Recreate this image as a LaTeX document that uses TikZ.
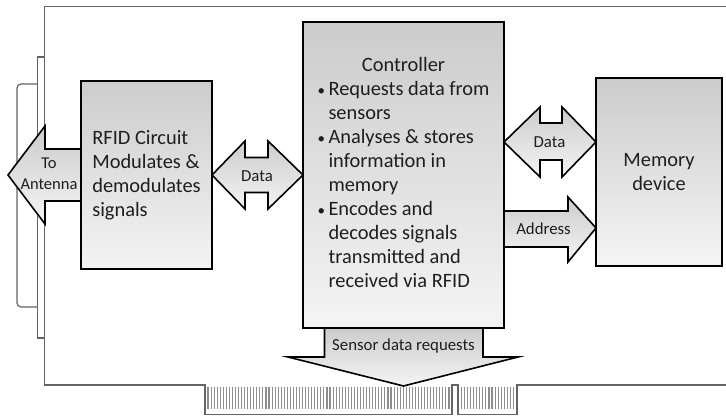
\documentclass[tikz,border=0pt]{standalone}
\usepackage{fontspec}
\setmainfont{Carlito}
\usetikzlibrary{calc}
\definecolor{gtop}{RGB}{204,204,204}
\definecolor{gbot}{RGB}{244,244,244}
\definecolor{board}{RGB}{100,100,100}
\definecolor{finger}{RGB}{140,140,140}
\definecolor{ink}{RGB}{30,30,30}
\newcommand{\blt}{\makebox[11pt][l]{\fontsize{15}{15}\selectfont\textbullet}}
\begin{document}
\begin{tikzpicture}[x=1pt,y=-1pt,
  box/.style={draw=black, line width=1.6pt, top color=gtop, bottom color=gbot, inner sep=0pt, outer sep=0pt, text=ink},
  blockarrow/.style={draw=black, line width=1.6pt, top color=gtop, bottom color=gbot, line join=miter},
  big/.style={font=\fontsize{20.4}{24}\selectfont},
  small/.style={font=\fontsize{16.8}{21}\selectfont, text=ink, inner sep=0pt},
  boardline/.style={draw=board, line width=1.4pt},
  fingerline/.style={draw=finger, line width=1.1pt},
]
\useasboundingbox (0,0) rectangle (726,418);

% board outline
\draw[boardline] (726,6.5) -- (44.5,6.5) -- (44.5,385) -- (205,385) -- (205,414.5) -- (452,414.5) -- (452,385) -- (458,385) -- (458,414.5) -- (517,414.5) -- (517,385) -- (726,385);
% bracket
\draw[boardline, line width=1.2pt] (44.5,57) -- (37.5,57) -- (37.5,338) -- (44.5,338);
\draw[boardline, line width=1.2pt, rounded corners=4pt] (37.5,84) -- (17,84) -- (17,307) -- (37.5,307);
% connector fingers
\foreach \i in {0,...,79} { \draw[fingerline] ({208+3.05*\i},387) -- ({208+3.05*\i},409); }
\foreach \i in {0,...,17} { \draw[fingerline] ({461.5+3.05*\i},387) -- ({461.5+3.05*\i},409); }

% boxes
\path (146.5,175) node[box, minimum width=131pt, minimum height=188pt, big, align=left] (rfid) {RFID Circuit\\Modulates \&\\demodulates\\signals};
\path (403.5,175) node[box, minimum width=201pt, minimum height=306pt, big] (ctrl) {%
\begin{tabular}{@{}l@{}l@{}}
\multicolumn{2}{c}{Controller}\\
\blt & Requests data from\\
 & sensors\\
\blt & Analyses \& stores\\
 & information in\\
 & memory\\
\blt & Encodes and\\
 & decodes signals\\
 & transmitted and\\
 & received via RFID
\end{tabular}};
\path (659,172) node[box, minimum width=126pt, minimum height=188pt, big, align=center] (mem) {Memory\\device};

% block arrows
\coordinate (edge) at ($(ctrl.south)+(0,58)$);
\draw[blockarrow] ($(rfid.west)+(0,-26)$) -- ($(rfid.west)+(-36,-26)$) -- ($(rfid.west)+(-36,-49)$) -- ($(rfid.west)+(-73,0)$) -- ($(rfid.west)+(-36,49)$) -- ($(rfid.west)+(-36,26)$) -- ($(rfid.west)+(0,26)$);
\draw[blockarrow] (rfid.east) -- ($(rfid.east)+(33,-34)$) -- ($(rfid.east)+(33,-17.5)$) -- ($(ctrl.west)+(-35,-17.5)$) -- ($(ctrl.west)+(-35,-34)$) -- (ctrl.west) -- ($(ctrl.west)+(-35,34)$) -- ($(ctrl.west)+(-35,17.5)$) -- ($(rfid.east)+(33,17.5)$) -- ($(rfid.east)+(33,34)$) -- cycle;
\coordinate (dl) at ($(ctrl.east)+(0,-33)$);
\coordinate (dr) at ($(mem.west)+(0,-30)$);
\draw[blockarrow] (dl) -- ($(dl)+(36,-35)$) -- ($(dl)+(36,-19)$) -- ($(dr)+(-34,-19)$) -- ($(dr)+(-34,-35)$) -- (dr) -- ($(dr)+(-34,35)$) -- ($(dr)+(-34,18)$) -- ($(dl)+(36,18)$) -- ($(dl)+(36,35)$) -- cycle;
\coordinate (al) at ($(ctrl.east)+(0,53)$);
\coordinate (ar) at ($(mem.west)+(0,56)$);
\draw[blockarrow] ($(al)+(0,-17)$) -- ($(ar)+(-28,-17)$) -- ($(ar)+(-28,-31)$) -- (ar) -- ($(ar)+(-28,34)$) -- ($(ar)+(-28,19)$) -- ($(al)+(0,19)$);
\draw[blockarrow] ($(ctrl.south)+(-79,0)$) -- ($(ctrl.south)+(-79,29)$) -- ($(ctrl.south)+(-115.5,29)$) -- (edge) -- ($(ctrl.south)+(114.5,29)$) -- ($(ctrl.south)+(79.5,29)$) -- ($(ctrl.south)+(79.5,0)$);

% box borders on top
\draw[line width=1.6pt] (rfid.north west) rectangle (rfid.south east);
\draw[line width=1.6pt] (ctrl.north west) rectangle (ctrl.south east);
\draw[line width=1.6pt] (mem.north west) rectangle (mem.south east);

% labels
\node[small, align=center, font=\fontsize{16.5}{21}\selectfont] (lto) at (49,174) {To\\Antenna};
\node[small] (ldata1) at (257,176) {Data};
\node[small] (ldata2) at (549.5,142) {Data};
\node[small] (laddr) at (543.5,229) {Address};
\node[small] (lsens) at (403.5,346) {Sensor data requests};
\end{tikzpicture}
\end{document}
